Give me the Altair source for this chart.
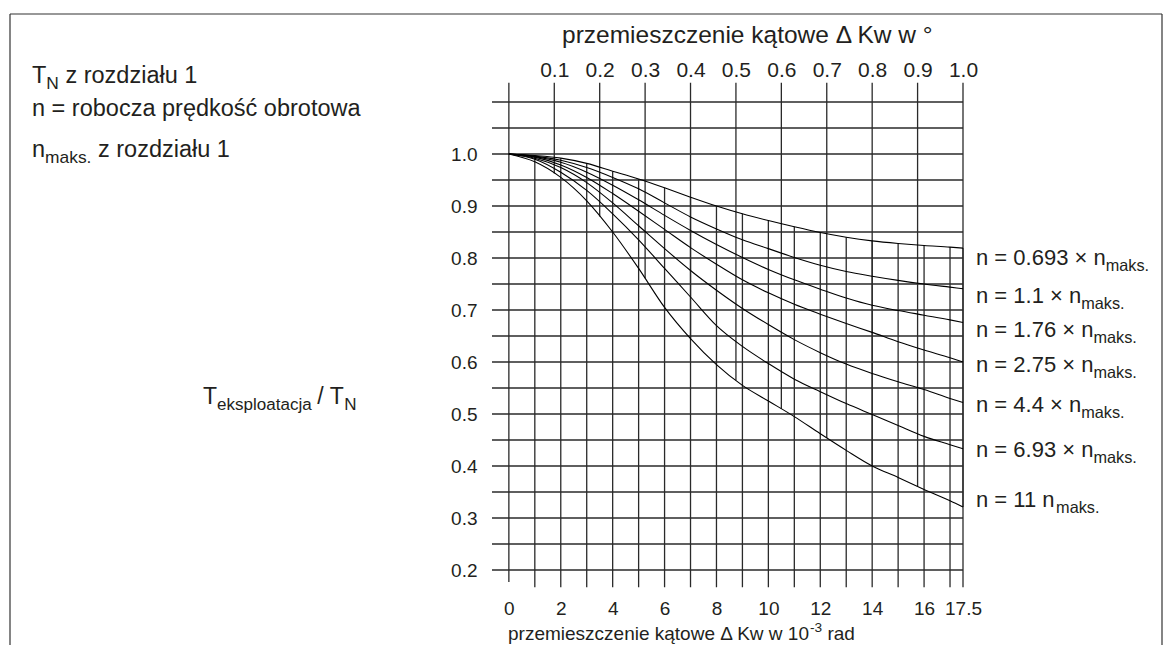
import altair as alt
import numpy as np
import pandas as pd

# ---------------- data ----------------
x_pts = [0, 1, 2, 3, 4, 5, 6, 7, 8, 9, 10, 11, 12, 13, 14, 15, 16, 17, 17.5]
series_names = ["n = 0.693", "n = 1.1", "n = 1.76", "n = 2.75", "n = 4.4", "n = 6.93", "n = 11"]
c_0693 = [1.0, 0.997, 0.992, 0.982, 0.967, 0.952, 0.935, 0.917, 0.900, 0.885, 0.872, 0.860, 0.849, 0.840, 0.833, 0.828, 0.824, 0.821, 0.819]
c_11 = [1.0, 0.996, 0.988, 0.974, 0.955, 0.933, 0.906, 0.879, 0.856, 0.835, 0.818, 0.801, 0.786, 0.774, 0.765, 0.757, 0.750, 0.744, 0.741]
c_176 = [1.0, 0.995, 0.984, 0.965, 0.940, 0.912, 0.882, 0.853, 0.826, 0.801, 0.778, 0.758, 0.740, 0.723, 0.709, 0.699, 0.690, 0.681, 0.676]
c_275 = [1.0, 0.994, 0.979, 0.955, 0.924, 0.890, 0.855, 0.820, 0.788, 0.758, 0.733, 0.711, 0.692, 0.674, 0.657, 0.639, 0.623, 0.608, 0.600]
c_44 = [1.0, 0.992, 0.974, 0.945, 0.906, 0.862, 0.818, 0.776, 0.738, 0.703, 0.672, 0.643, 0.618, 0.596, 0.578, 0.562, 0.547, 0.530, 0.522]
c_693 = [1.0, 0.990, 0.965, 0.930, 0.885, 0.835, 0.780, 0.725, 0.670, 0.630, 0.597, 0.567, 0.543, 0.520, 0.499, 0.478, 0.457, 0.441, 0.433]
c_11n = [1.0, 0.985, 0.955, 0.910, 0.850, 0.780, 0.705, 0.645, 0.595, 0.555, 0.525, 0.495, 0.462, 0.430, 0.400, 0.378, 0.355, 0.333, 0.321]
curves = [c_0693, c_11, c_176, c_275, c_44, c_693, c_11n]

y_grid = [0.2, 0.25, 0.3, 0.35, 0.4, 0.45, 0.5, 0.55, 0.6, 0.65, 0.7, 0.75, 0.8, 0.85, 0.9, 0.95, 1.0, 1.05, 1.1]
y_labels = [0.2, 0.3, 0.4, 0.5, 0.6, 0.7, 0.8, 0.9, 1.0]
x_grid = [1, 2, 3, 4, 5, 6, 7, 8, 9, 10, 11, 12, 13, 14, 15, 16, 17, 17.5]
x_labels = [0, 2, 4, 6, 8, 10, 12, 14, 16, 17.5]
deg_ticks = [0.1, 0.2, 0.3, 0.4, 0.5, 0.6, 0.7, 0.8, 0.9, 1.0]
MRAD_PER_DEG = 17.5

# ---------------- layout constants ----------------
W, H = 471, 520
PAD = {"left": 484, "top": 68, "right": 201, "bottom": 49}
OX, OY = 8 + PAD["left"], 8 + PAD["top"]
XDOM = [-0.65, 17.5]
YDOM = [0.15, 1.15]
GRID_TOP, GRID_BOT, ZERO_BOT = 1.137, 0.167, 0.177
FONT = "Liberation Sans"
INK = "#231f20"
FS = 19

xs = alt.Scale(domain=XDOM, nice=False, zero=False)
xs_deg = alt.Scale(domain=[XDOM[0] / MRAD_PER_DEG, XDOM[1] / MRAD_PER_DEG], nice=False, zero=False)
ys = alt.Scale(domain=YDOM, nice=False, zero=False)

# ---------------- tables ----------------
curve_df = pd.DataFrame([
    {"x": x, "v": v, "s": name}
    for name, vals in zip(series_names, curves)
    for x, v in zip(x_pts, vals)
])

hgrid_df = pd.DataFrame({"y": y_grid, "x0": XDOM[0], "x1": XDOM[1]})

top_curve = np.array(c_0693)
low_curve = np.array(c_11n)
vx = [0] + x_grid
vtop = [GRID_TOP] + [float(np.interp(x, x_pts, top_curve)) for x in x_grid]
vbot = [ZERO_BOT] + [GRID_BOT] * len(x_grid)
vgrid_df = pd.DataFrame({"x": vx, "yt": vtop, "yb": vbot})

tgrid_df = pd.DataFrame({
    "d": deg_ticks,
    "yt": GRID_TOP,
    "yb": [float(np.interp(d * MRAD_PER_DEG, x_pts, low_curve)) for d in deg_ticks],
})

# ---------------- rich text helper ----------------
ADV = {' ': 278, 'a': 556, 'b': 556, 'c': 500, 'd': 556, 'e': 556, 'i': 222, 'k': 500, 'l': 222,
       'm': 833, 'n': 556, 'o': 556, 'p': 556, 'r': 333, 's': 500, 't': 278, 'u': 556, 'w': 722,
       'z': 500, 'ą': 556, 'ę': 556, 'ś': 500, 'ć': 500, 'ł': 222, 'T': 611, 'N': 722, 'K': 667,
       'Δ': 668, '.': 278, '=': 584, '×': 584, '/': 278, '-': 333, '°': 400}


def adv(s, fs):
    return sum(ADV.get(c, 556) for c in s) / 1000.0 * fs


def rich(segments, x0, base, size=FS):
    rows, x = [], x0
    for text, kind in segments:
        fs, dy = size, 0.0
        if kind == "sub":
            fs, dy = size * 0.74, size * 0.27
        elif kind == "sup":
            fs, dy = size * 0.72, -size * 0.40
        lead = len(text) - len(text.lstrip(" "))
        x += adv(" " * lead, fs)
        core = text.strip(" ")
        rows.append({"t": core, "px": x - OX, "py": base + dy - OY, "fs": fs})
        x += adv(core, fs) + adv(" " * (len(text.lstrip(" ")) - len(core)), fs)
    return rows


right_labels = ["n = 0.693 × n", "n = 1.1 × n", "n = 1.76 × n", "n = 2.75 × n",
                "n = 4.4 × n", "n = 6.93 × n", "n = 11 n"]
right_base = [265, 303, 337, 372, 412, 457, 507]

text_rows = []
text_rows += rich([("T", "n"), ("N", "sub"), (" z rozdziału 1", "n")], 32, 83, 23.5)
text_rows += rich([("n = robocza prędkość obrotowa", "n")], 32, 116, 23.5)
text_rows += rich([("n", "n"), ("maks.", "sub"), (" z rozdziału 1", "n")], 32, 157, 23.5)
text_rows += rich([("T", "n"), ("eksploatacja", "sub"), ("/ T", "n"), ("N", "sub")], 203, 404, 23)
text_rows += rich([("przemieszczenie kątowe Δ Kw w °", "n")], 562, 43, 24.5)
text_rows += rich([("przemieszczenie kątowe Δ Kw w 10", "n"), ("-3", "sup"), (" rad", "n")], 508, 640, 19)
for lab, b in zip(right_labels, right_base):
    text_rows += rich([(lab, "n"), ("maks.", "sub")], 976, b, 22)
text_df = pd.DataFrame(text_rows)

# ---------------- layers ----------------
GRID_COL = "#2a2a2a"

hgrid = alt.Chart(hgrid_df).mark_rule(color=GRID_COL, strokeWidth=1.3).encode(
    x=alt.X("x0:Q", scale=xs, axis=None),
    x2="x1:Q",
    y=alt.Y("y:Q", scale=ys, axis=alt.Axis(
        values=y_labels, format=".1f", ticks=False, domain=False, grid=False,
        labelFont=FONT, labelFontSize=FS, labelColor=INK, labelPadding=15,
        labelBaseline="middle", labelOverlap=False, labelFlush=False, title=None)),
)

vgrid = alt.Chart(vgrid_df).mark_rule(color=GRID_COL, strokeWidth=1.3).encode(
    x=alt.X("x:Q", scale=xs, axis=alt.Axis(
        orient="bottom", values=x_labels, labelExpr="'' + datum.value", ticks=False, tickSize=0,
        domain=False, grid=False, labelFont=FONT, labelFontSize=FS, labelColor=INK,
        labelPadding=18, labelBaseline="alphabetic", labelOverlap=False, labelBound=False,
        labelFlush=False, title=None)),
    y=alt.Y("yt:Q", scale=ys, axis=None),
    y2="yb:Q",
)

tgrid = alt.Chart(tgrid_df).mark_rule(color=GRID_COL, strokeWidth=1.3).encode(
    x=alt.X("d:Q", scale=xs_deg, axis=alt.Axis(
        orient="top", values=deg_ticks, format=".1f", ticks=False, tickSize=0, domain=False,
        grid=False, labelFont=FONT, labelFontSize=21, labelColor=INK, labelPadding=0,
        labelBaseline="alphabetic", labelOverlap=False, labelBound=False, labelFlush=False,
        title=None)),
    y=alt.Y("yt:Q", scale=ys, axis=None),
    y2="yb:Q",
)

lines = alt.Chart(curve_df).mark_line(color="black", strokeWidth=1.1, interpolate="monotone").encode(
    x=alt.X("x:Q", scale=xs, axis=None),
    y=alt.Y("v:Q", scale=ys, axis=None),
    detail="s:N",
    order="x:Q",
)

texts = alt.Chart(text_df).mark_text(align="left", baseline="alphabetic", font=FONT, color=INK).encode(
    x=alt.X("px:Q", scale=None, axis=None),
    y=alt.Y("py:Q", scale=None, axis=None),
    size=alt.Size("fs:Q", scale=None, legend=None),
    text="t:N",
)

one = alt.Data(values=[{"k": 1}])
FL, FT, FR = 10 - OX, 14 - OY, 1162 - OX
frame_left = alt.Chart(one).mark_rule(color="#333333", strokeWidth=1.2).encode(
    x=alt.value(FL), y=alt.value(FT), y2=alt.value(700))
frame_top = alt.Chart(one).mark_rule(color="#333333", strokeWidth=1.2).encode(
    x=alt.value(FL), x2=alt.value(FR), y=alt.value(FT))
frame_right = alt.Chart(one).mark_rule(color="#333333", strokeWidth=1.2).encode(
    x=alt.value(FR), y=alt.value(FT), y2=alt.value(700))

chart = alt.layer(
    hgrid, vgrid, tgrid, lines, texts, frame_left, frame_top, frame_right
).resolve_scale(
    x="independent", y="independent"
).properties(
    width=W, height=H, padding=PAD,
    autosize=alt.AutoSizeParams(type="none"),
    background="white",
).configure_view(stroke=None)

chart.save("out.html", embed_options={"renderer": "svg", "actions": False})
